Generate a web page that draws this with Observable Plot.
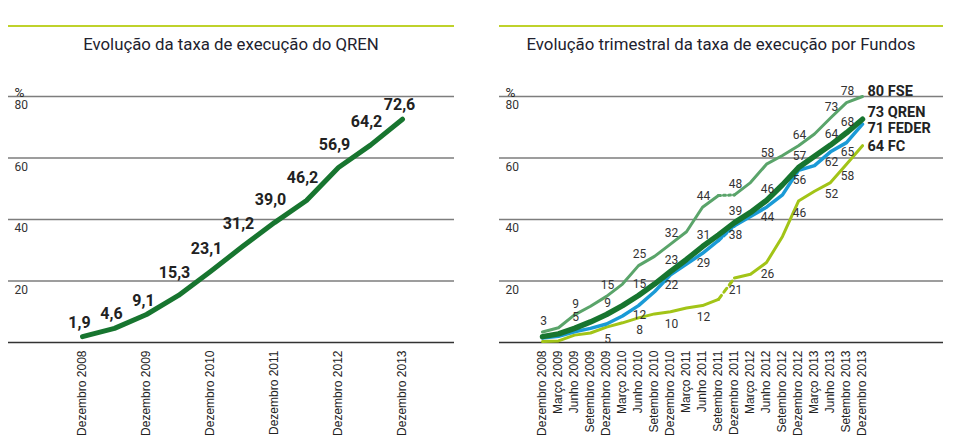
<!DOCTYPE html>
<html>
<head>
<meta charset="utf-8">
<script src="https://cdn.jsdelivr.net/npm/d3@7"></script>
<script src="https://cdn.jsdelivr.net/npm/@observablehq/plot@0.6"></script>
<style>
  html, body { margin: 0; padding: 0; background: #fff; width: 958px; height: 443px; overflow: hidden; }
  .panel { position: absolute; top: 0; }
  .rule { position: absolute; top: 25px; left: 0; right: 0; height: 2px; background: #bfd22b; }
  .title { position: absolute; top: 34px; left: 0; right: 0; text-align: center; font-family: Roboto, "Noto Sans", sans-serif; font-size: 16.8px; line-height: 20px; color: #22222e; }
  .plot { position: absolute; top: 78px; left: 0; }
  svg { overflow: visible; }
</style>
</head>
<body>
<div class="panel" id="leftPanel" style="left:8px;width:446px">
  <div class="rule"></div>
  <div class="title">Evolução da taxa de execução do QREN</div>
  <div class="plot" id="leftPlot"></div>
</div>
<div class="panel" id="rightPanel" style="left:499px;width:444px">
  <div class="rule"></div>
  <div class="title">Evolução trimestral da taxa de execução por Fundos</div>
  <div class="plot" id="rightPlot"></div>
</div>
<script>
// ---------- data ----------
const semesters = ["Dezembro 2008","Junho 2009","Dezembro 2009","Junho 2010","Dezembro 2010","Junho 2011","Dezembro 2011","Junho 2012","Dezembro 2012","Junho 2013","Dezembro 2013"];
const qrenSemestral = [1.9, 4.6, 9.1, 15.3, 23.1, 31.2, 39.0, 46.2, 56.9, 64.2, 72.6];

const quarters = ["Dezembro 2008","Março 2009","Junho 2009","Setembro 2009","Dezembro 2009","Março 2010","Junho 2010","Setembro 2010","Dezembro 2010","Março 2011","Junho 2011","Setembro 2011","Dezembro 2011","Março 2012","Junho 2012","Setembro 2012","Dezembro 2012","Março 2013","Junho 2013","Setembro 2013","Dezembro 2013"];
const fse   = [3.4, 4.8, 9.0, 11.8, 15.0, 19.0, 25.0, 28.0, 32.0, 36.0, 44.0, 47.8, 48.0, 52.0, 58.0, 60.8, 64.0, 67.8, 73.0, 78.0, 80.0];
const qren  = [1.9, 2.8, 4.6, 6.7, 9.1, 12.0, 15.3, 19.0, 23.1, 27.0, 31.2, 35.0, 39.0, 42.3, 46.2, 51.3, 56.9, 60.6, 64.2, 68.2, 72.6];
const feder = [1.5, 2.0, 3.5, 4.6, 6.0, 8.6, 12.0, 16.5, 22.0, 25.5, 29.0, 33.2, 38.0, 41.0, 44.0, 48.0, 56.0, 57.5, 62.0, 65.0, 71.0];
const fc    = [0.3, 0.5, 2.4, 3.1, 5.0, 6.4, 8.0, 9.3, 10.0, 11.2, 12.0, 14.0, 21.0, 22.2, 26.0, 34.5, 46.0, 49.2, 52.0, 58.0, 64.0];
const seriesNames = ["FC", "FSE", "FEDER", "QREN"];
const yTicks = [20, 40, 60, 80];

// ---------- styles ----------
const NUM_FONT = "Roboto, 'Noto Sans', sans-serif";
const AXIS_FONT = "'Liberation Sans', Arial, sans-serif";
const GRID = "#7d7d7d";
const colors = {FSE: "#5aa46a", QREN: "#17752f", FEDER: "#1a9ad6", FC: "#a2c417"};
const widths = {FSE: 3, QREN: 5.5, FEDER: 3.5, FC: 3};
const dashes = {FSE: "2,3", QREN: null, FEDER: "4,3", FC: "5,4"};
const labelDy = {FSE: -11, QREN: -11, FEDER: 10, FC: 12};
const labelFrom = {FSE: 0, QREN: 2, FEDER: 6, FC: 4};
const endDy = {FSE: -5, QREN: -7, FEDER: 4, FC: 1};

const fmt = d => d.toFixed(1).replace(".", ",");

function frameMarks() {
  return [
    Plot.ruleY(yTicks, {y: d => d, stroke: GRID, strokeWidth: 1.4}),
    Plot.ruleY([0], {stroke: "#333", strokeWidth: 1.6}),
    Plot.text(yTicks, {y: d => d, frameAnchor: "left", dx: 6, dy: 9, textAnchor: "start", text: d => String(d), fontSize: 12, fill: "#333", fontFamily: NUM_FONT}),
    Plot.text(["%"], {frameAnchor: "top-left", dx: 6, dy: -9, textAnchor: "start", text: d => d, fontSize: 13.5, fill: "#222", fontFamily: NUM_FONT})
  ];
}

// ---------- left chart ----------
const leftData = semesters.map((s, i) => ({period: s, value: qrenSemestral[i], i}));
const leftPlot = Plot.plot({
  width: 446, height: 360,
  marginTop: 18, marginBottom: 96, marginLeft: 0, marginRight: 0,
  x: {type: "point", domain: semesters, range: [72, 395], padding: 0, axis: null},
  y: {domain: [0, 80], range: [264, 18], axis: null},
  marks: [
    ...frameMarks(),
    Plot.axisX(semesters.filter(d => d.startsWith("Dezembro")), {anchor: "bottom", tickSize: 0, tickPadding: 8, tickRotate: -90, fontSize: 12, fill: "#222", fontFamily: AXIS_FONT, label: null}),
    Plot.line(leftData, {x: "period", y: "value", stroke: colors.QREN, strokeWidth: 5, strokeLinecap: "round", strokeLinejoin: "round"}),
    Plot.text(leftData.filter(d => d.i <= 2 || d.i === 10), {x: "period", y: "value", text: d => fmt(d.value), dx: -3, dy: -14, fontSize: 16, fontWeight: 700, fill: "#222", fontFamily: NUM_FONT}),
    Plot.text(leftData.filter(d => d.i > 2 && d.i < 10), {x: "period", y: "value", text: d => fmt(d.value), dx: -4, dy: -23, fontSize: 16, fontWeight: 700, fill: "#222", fontFamily: NUM_FONT})
  ]
});
document.getElementById("leftPlot").append(leftPlot);

// ---------- right chart ----------
const valuesBySeries = {FSE: fse, QREN: qren, FEDER: feder, FC: fc};
const rows = [];
for (const s of seriesNames) {
  valuesBySeries[s].forEach((v, i) => rows.push({series: s, quarter: quarters[i], value: v, i}));
}
const lineMarks = [];
for (const s of seriesNames) {
  const r = rows.filter(d => d.series === s);
  if (dashes[s]) {
    lineMarks.push(Plot.line(r.filter(d => d.i <= 11), {x: "quarter", y: "value", stroke: colors[s], strokeWidth: widths[s], strokeLinejoin: "round"}));
    lineMarks.push(Plot.line(r.filter(d => d.i >= 11 && d.i <= 12), {x: "quarter", y: "value", stroke: colors[s], strokeWidth: widths[s], strokeDasharray: dashes[s]}));
    lineMarks.push(Plot.line(r.filter(d => d.i >= 12), {x: "quarter", y: "value", stroke: colors[s], strokeWidth: widths[s], strokeLinejoin: "round"}));
  } else {
    lineMarks.push(Plot.line(r, {x: "quarter", y: "value", stroke: colors[s], strokeWidth: widths[s], strokeLinejoin: "round", strokeLinecap: "round"}));
  }
}
const labelMarks = [];
for (const s of seriesNames) {
  const r = rows.filter(d => d.series === s && d.i >= labelFrom[s] && d.i < 20 && (d.i % 2 === 0 || d.i === 19));
  labelMarks.push(Plot.text(r, {x: "quarter", y: "value", text: d => String(Math.round(d.value)), dy: labelDy[s], dx: 1, fontSize: 12, fill: "#333", fontFamily: NUM_FONT}));
  const last = rows.filter(d => d.series === s && d.i === 20);
  labelMarks.push(Plot.text(last, {x: "quarter", y: "value", text: d => Math.round(d.value) + " " + s, dx: 5, dy: endDy[s], textAnchor: "start", fontSize: 14.5, fontWeight: 700, fill: "#222", fontFamily: NUM_FONT}));
}
const rightPlot = Plot.plot({
  width: 444, height: 360,
  marginTop: 18, marginBottom: 96, marginLeft: 0, marginRight: 0,
  x: {type: "point", domain: quarters, range: [34, 371], padding: 0, axis: null},
  y: {domain: [0, 80], range: [264, 18], axis: null},
  marks: [
    ...frameMarks(),
    Plot.axisX(quarters, {anchor: "bottom", tickSize: 0, tickPadding: 8, tickRotate: -90, fontSize: 12, fill: "#222", fontFamily: AXIS_FONT, label: null}),
    ...lineMarks,
    ...labelMarks
  ]
});
document.getElementById("rightPlot").append(rightPlot);
</script>
</body>
</html>
